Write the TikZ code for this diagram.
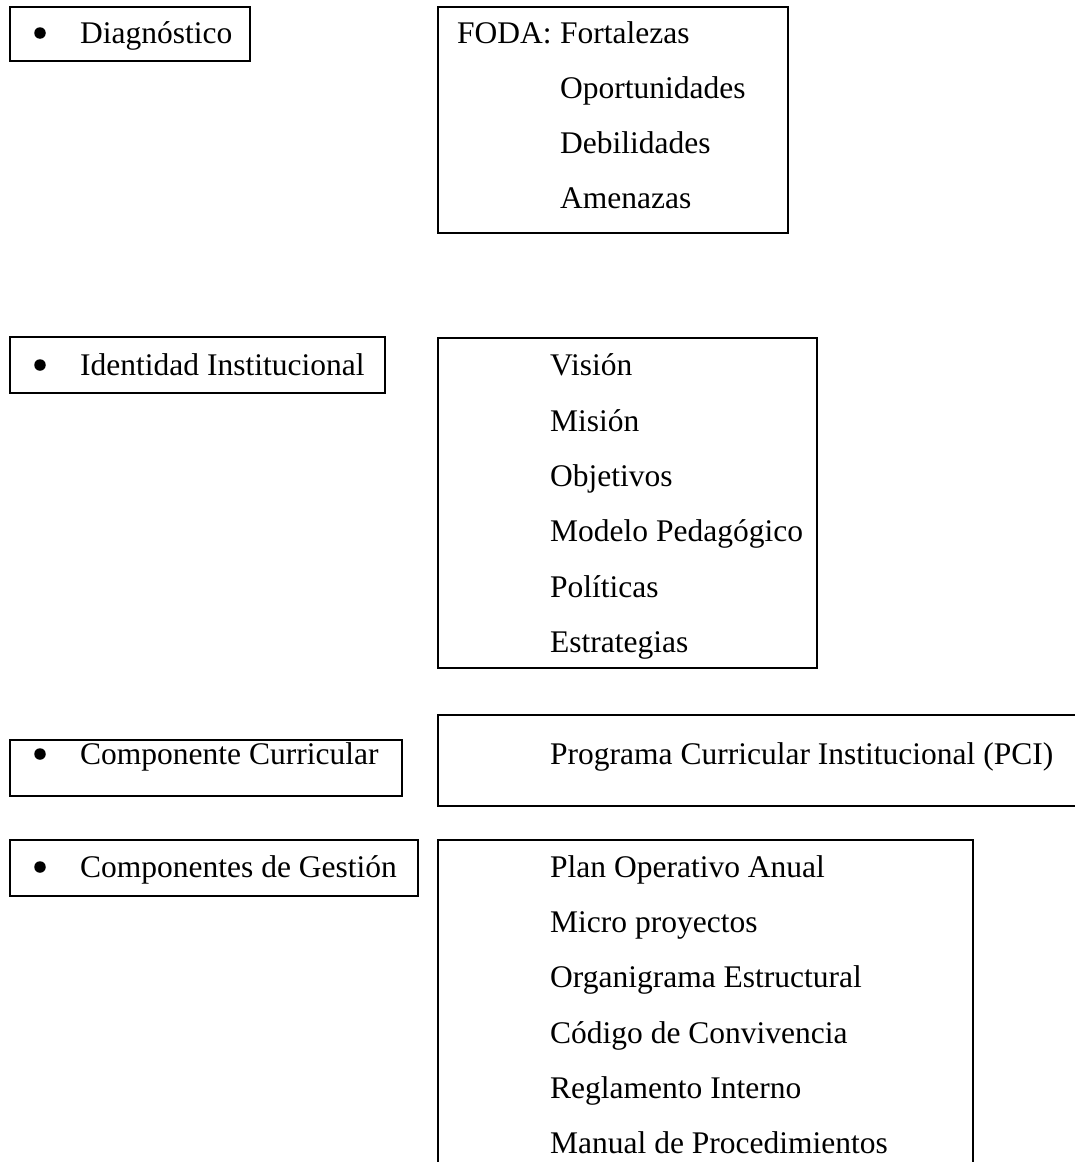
\documentclass[tikz,border=0pt]{standalone}
\usepackage{fontspec}
\setmainfont{Liberation Serif}
\begin{document}
\begin{tikzpicture}[x=1pt,y=-1pt,
  txt/.style={anchor=base west,inner sep=0pt,font=\fontsize{31.5}{36}\selectfont},
  bul/.style={circle,fill=black,inner sep=0pt,minimum size=11.5pt},
  frame/.style={draw=black,line width=1.6pt}]
\useasboundingbox[fill=white] (0,0) rectangle (1075,1162);
\begin{scope}
\clip (0,0) rectangle (1075,1162);
% Diagnostico
\draw[frame] (10,7) rectangle (250,61);
\node[bul] (b1) at (40,33) {};
\node[txt] (diag) at (80,43) {Diagnóstico};
\draw[frame] (438,7) rectangle (788,233);
\node[txt] (foda) at (457,43) {FODA:};
\node[txt] (f1) at (560,43) {Fortalezas};
\node[txt] (f2) at (560,98) {Oportunidades};
\node[txt] (f3) at (560,153) {Debilidades};
\node[txt] (f4) at (560,208) {Amenazas};
% Identidad
\draw[frame] (10,337) rectangle (385,393);
\node[bul] (b2) at (40,365) {};
\node[txt] (ident) at (80,375) {Identidad Institucional};
\draw[frame] (438,338) rectangle (817,668);
\node[txt] (i1) at (550,375) {Visión};
\node[txt] (i2) at (550,431) {Misión};
\node[txt] (i3) at (550,486) {Objetivos};
\node[txt] (i4) at (550,541) {Modelo Pedagógico};
\node[txt] (i5) at (550,597) {Políticas};
\node[txt] (i6) at (550,652) {Estrategias};
% Curricular
\draw[frame] (10,740) rectangle (402,796);
\node[bul] (b3) at (40,754) {};
\node[txt] (curr) at (80,764) {Componente Curricular};
\draw[frame] (1080,715) -- (438,715) -- (438,806) -- (1080,806);
\node[txt] (pci) at (550,764) {Programa Curricular Institucional (PCI)};
% Gestion
\draw[frame] (10,840) rectangle (418,896);
\node[bul] (b4) at (40,867) {};
\node[txt] (gest) at (80,877) {Componentes de Gestión};
\draw[frame] (438,1170) -- (438,840) -- (973,840) -- (973,1170);
\node[txt] (g1) at (550,877) {Plan Operativo Anual};
\node[txt] (g2) at (550,932) {Micro proyectos};
\node[txt] (g3) at (550,987) {Organigrama Estructural};
\node[txt] (g4) at (550,1043) {Código de Convivencia};
\node[txt] (g5) at (550,1098) {Reglamento Interno};
\node[txt] (g6) at (550,1153) {Manual de Procedimientos};
\end{scope}
\end{tikzpicture}
\end{document}
